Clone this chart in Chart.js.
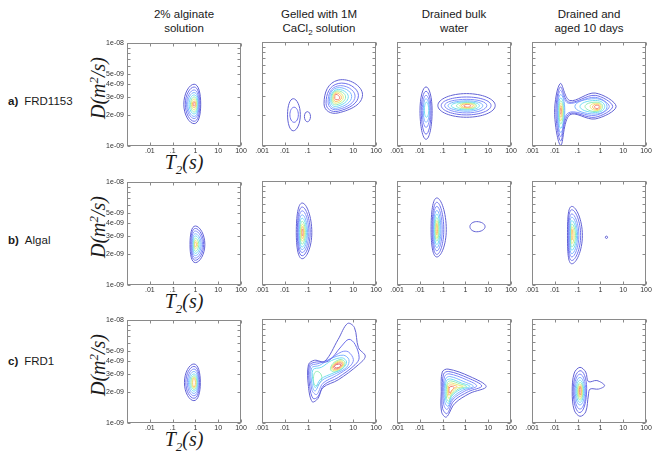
<!DOCTYPE html>
<html>
<head>
<meta charset="utf-8">
<script src="https://cdn.jsdelivr.net/npm/chart.js@4.4.0/dist/chart.umd.min.js"></script>
<style>
  body { margin: 0; width: 661px; height: 462px; overflow: hidden; position: relative; background: #fff;
         font-family: "Liberation Sans", Arial, sans-serif; color: #1a1a1a; }
  .col { position: absolute; top: 7px; width: 160px; text-align: center; font-size: 11.5px; line-height: 14px; }
  .row { position: absolute; left: 8px; font-size: 11.5px; line-height: 14px; white-space: nowrap; }
  .row b { margin-right: 6px; }
  .ttl { position: absolute; font-family: "Liberation Serif", "Times New Roman", serif; font-style: italic;
         font-size: 20px; white-space: nowrap; line-height: 22px; }
  .ttl sup, .ttl sub { font-size: 13px; }
  .yt { transform: translate(-50%, -50%) rotate(-90deg); }
  .xt { transform: translate(-50%, -50%); }
  canvas { position: absolute; }
</style>
</head>
<body>
<script>
// ---- axes ----
const T2_TICKS = [0.001, 0.01, 0.1, 1, 10, 100];
const T2_LABELS = ['.001', '.01', '.1', '1', '10', '100'];
const D_TICKS = [1, 2, 3, 4, 5, 6, 7, 8, 9, 10];          // x 1e-9 m2/s
const D_LABELS = { 1: '1e-09', 2: '2e-09', 3: '3e-09', 4: '4e-09', 5: '5e-09', 10: '1e-08' };

const columns = ['2% alginate<br>solution', 'Gelled with 1M<br>CaCl<sub style="font-size:8px">2</sub> solution',
                 'Drained bulk<br>water', 'Drained and<br>aged 10 days'];
const rowTags = ['a)', 'b)', 'c)'];
const rowNames = ['FRD1153', 'Algal', 'FRD1'];

// ---- contours: [level, [T2, D(1e-9), T2, D, ...]] ----
const a1 = [
  [0, [.31,2.55, .88,3.99, 1.71,2.55, .88,1.65]],
  [1, [.36,2.55, .88,3.75, 1.57,2.55, .88,1.74]],
  [2, [.41,2.55, .88,3.51, 1.44,2.55, .88,1.85]],
  [3, [.46,2.55, .88,3.31, 1.36,2.55, .88,1.94]],
  [4, [.53,2.55, .88,3.14, 1.29,2.55, .88,2.05]],
  [5, [.61,2.55, .88,3.0, 1.21,2.55, .88,2.14]],
  [6, [.67,2.55, .88,2.87, 1.13,2.55, .88,2.24]],
  [7, [.74,2.55, .88,2.74, 1.06,2.55, .88,2.35]],
  [8, [.8,2.55, .88,2.66, .98,2.55, .88,2.44]]
];
const a2 = [
  [0, [.0132,2.0, .0236,2.85, .048,2.0, .0236,1.40]],
  [1, [.0167,2.0, .0256,2.36, .0393,2.0, .0256,1.69]],
  [0, [.0726,1.92, .098,2.14, .134,1.92, .098,1.71]],
  [0, [.525,2.55, 2.2,4.3, 25.6,3.12, 2.2,2.08]],
  [1, [.644,2.58, 2.2,3.99, 17,3.07, 2.2,2.16]],
  [2, [.79,2.64, 2.1,3.78, 12.1,3.02, 2.1,2.24]],
  [3, [.906,2.68, 1.92,3.62, 8.6,3.0, 1.92,2.31]],
  [4, [1.04,2.72, 1.85,3.48, 6.1,2.98, 1.85,2.40]],
  [5, [1.15,2.77, 1.8,3.38, 4.66,2.96, 1.8,2.49]],
  [6, [1.27,2.81, 1.78,3.31, 3.67,2.94, 1.78,2.58]],
  [7, [1.41,2.85, 1.75,3.23, 3.09,2.92, 1.75,2.68]],
  [8, [1.56,2.89, 1.75,3.14, 2.61,2.89, 1.75,2.79]]
];
const a3 = [
  [0, [.0102,2.19, .0188,3.70, .0347,2.19, .0188,1.16]],
  [1, [.0116,2.19, .0188,3.36, .0312,2.19, .0188,1.30]],
  [2, [.0129,2.19, .0188,3.07, .0284,2.19, .0188,1.51]],
  [3, [.0143,2.19, .0188,2.85, .0265,2.19, .0188,1.69]],
  [4, [.0159,2.19, .0195,2.64, .0247,2.19, .0195,1.89]],
  [0, [.062,2.45, 1.12,3.19, 20.3,2.45, 1.12,1.89]],
  [1, [.087,2.45, 1.12,2.96, 13.3,2.45, 1.12,1.99]],
  [2, [.123,2.45, 1.15,2.81, 8.7,2.45, 1.15,2.08]],
  [3, [.172,2.44, 1.2,2.72, 5.8,2.44, 1.2,2.16]],
  [4, [.242,2.44, 1.2,2.66, 4.1,2.44, 1.2,2.22]],
  [5, [.405,2.44, 1.2,2.62, 3.1,2.44, 1.2,2.26]],
  [6, [.57,2.44, 1.2,2.58, 2.66,2.44, 1.2,2.29]],
  [7, [.67,2.44, 1.2,2.55, 2.24,2.44, 1.2,2.33]],
  [8, [.86,2.44, 1.25,2.51, 1.7,2.44, 1.25,2.36]]
];
const a4 = [
  [0, [.0098,2.11, .0175,3.99, .0452,2.74, .59,3.23, 4.9,2.40, .59,1.82, .0452,1.99, .0182,1.015]],
  [1, [.0112,2.11, .0175,3.70, .0414,2.64, .59,3.07, 3.45,2.40, .59,1.89, .0414,2.03, .0182,1.12]],
  [2, [.0125,2.11, .0175,3.43, .0386,2.58, .59,2.94, 2.46,2.40, .59,1.97, .0386,2.08, .0182,1.23]],
  [3, [.0133,2.2, .0182,3.12, .0274,2.2, .0182,1.35]],
  [4, [.0143,2.2, .0182,2.89, .0256,2.2, .0182,1.48]],
  [5, [.0153,2.2, .0182,2.72, .0239,2.2, .0182,1.63]],
  [6, [.0159,2.2, .0182,2.58, .0223,2.2, .0182,1.75]],
  [7, [.0164,2.15, .0182,2.45, .0208,2.15, .0182,1.89]],
  [8, [.017,2.15, .0182,2.33, .0194,2.15, .0182,2.03]],
  [3, [.076,2.4, .59,2.85, 1.95,2.4, .59,2.03]],
  [4, [.127,2.4, .62,2.74, 1.55,2.4, .62,2.10]],
  [5, [.211,2.4, .65,2.64, 1.25,2.4, .65,2.14]],
  [6, [.354,2.4, .7,2.58, 1.09,2.4, .7,2.19]],
  [7, [.45,2.38, .72,2.53, .98,2.38, .72,2.24]],
  [8, [.55,2.38, .72,2.47, .89,2.38, .72,2.29]]
];
const b1 = [
  [0, [.58,2.48, 1.0,3.75, 2.6,2.48, 1.0,1.65]],
  [1, [.63,2.48, 1.0,3.55, 2.3,2.48, 1.0,1.74]],
  [2, [.68,2.48, 1.0,3.35, 2.05,2.48, 1.0,1.83]],
  [3, [.73,2.48, 1.0,3.15, 1.8,2.48, 1.0,1.93]],
  [4, [.78,2.48, 1.0,3.0, 1.6,2.48, 1.0,2.03]],
  [5, [.84,2.48, 1.0,2.85, 1.4,2.48, 1.0,2.13]],
  [6, [.89,2.48, 1.0,2.72, 1.25,2.48, 1.0,2.25]],
  [7, [.93,2.48, 1.0,2.62, 1.12,2.48, 1.0,2.35]]
];
const b2 = [
  [0, [.0319,3.2, .058,6.14, .153,3.2, .058,1.79]],
  [1, [.0354,3.2, .058,5.62, .130,3.2, .058,1.91]],
  [2, [.038,3.2, .058,5.17, .113,3.2, .058,2.05]],
  [3, [.0405,3.2, .058,4.73, .099,3.2, .058,2.19]],
  [4, [.0435,3.2, .058,4.39, .0893,3.2, .058,2.32]],
  [5, [.0466,3.2, .058,4.10, .080,3.2, .058,2.47]],
  [6, [.050,3.2, .059,3.84, .0726,3.2, .059,2.64]],
  [7, [.0534,3.2, .06,3.64, .068,3.2, .06,2.80]],
  [8, [.0553,3.2, .06,3.45, .0634,3.2, .06,2.97]]
];
const b3 = [
  [0, [.0312,3.4, .056,6.87, .145,3.4, .056,1.86]],
  [1, [.0347,3.4, .056,6.24, .113,3.4, .056,1.97]],
  [2, [.0372,3.4, .056,5.70, .096,3.4, .056,2.13]],
  [3, [.040,3.4, .056,5.21, .084,3.4, .056,2.29]],
  [4, [.0427,3.4, .056,4.80, .076,3.4, .056,2.45]],
  [5, [.0458,3.4, .056,4.45, .069,3.4, .056,2.64]],
  [6, [.049,3.4, .056,4.16, .065,3.4, .056,2.80]],
  [7, [.0526,3.4, .056,3.92, .060,3.4, .056,3.02]],
  [0, [1.58,3.64, 3.13,4.07, 7.3,3.64, 3.13,3.25]]
];
const b4 = [
  [0, [.036,3.0, .056,5.70, .162,3.0, .056,1.60]],
  [1, [.0386,3.0, .056,5.29, .136,3.0, .056,1.72]],
  [2, [.0414,3.0, .056,4.83, .114,3.0, .056,1.86]],
  [3, [.0444,3.0, .056,4.49, .100,3.0, .056,2.0]],
  [4, [.0476,3.0, .056,4.16, .090,3.0, .056,2.16]],
  [5, [.049,3.0, .056,3.86, .081,3.0, .056,2.32]],
  [6, [.051,3.0, .056,3.64, .071,3.0, .056,2.50]],
  [7, [.0526,3.0, .056,3.45, .062,3.0, .056,2.70]],
  [0, [1.64,2.88, 1.85,2.95, 2.07,2.88, 1.85,2.80]]
];
const c1 = [
  [0, [.33,2.47, .86,3.75, 1.65,2.47, .86,1.65]],
  [1, [.38,2.47, .86,3.55, 1.52,2.47, .86,1.74]],
  [2, [.44,2.47, .86,3.35, 1.42,2.47, .86,1.84]],
  [3, [.5,2.47, .86,3.17, 1.33,2.47, .86,1.94]],
  [4, [.56,2.47, .86,3.0, 1.25,2.47, .86,2.04]],
  [5, [.63,2.47, .86,2.88, 1.17,2.47, .86,2.12]],
  [6, [.7,2.47, .86,2.8, 1.1,2.47, .86,2.18]],
  [7, [.76,2.47, .86,2.72, 1.0,2.47, .86,2.22]]
];
const c2 = [
  [0, [.109,3.64, .202,4.01, .56,3.92, 2.2,6.38, 5.68,9.06, 11.3,8.28, 17,5.29, 33.8,4.39, 17,3.64, 2.2,2.60, .47,2.19, .284,1.72, .16,1.60, .109,2.24]],
  [1, [.12,3.59, .239,3.86, .79,3.92, 3.09,5.49, 6.5,6.38, 12.1,5.70, 18.2,4.23, 12.1,3.64, 2.2,2.74, .52,2.32, .284,1.79, .175,1.72, .124,2.24]],
  [2, [.134,3.51, .284,3.72, .85,4.07, 3.09,4.83, 6.1,4.83, 10.2,4.07, 7.2,3.51, 1.85,2.86, .47,2.41, .25,1.88, .154,2.08]],
  [3, [.149,3.38, .337,3.58, 1.04,4.16, 3.67,4.49, 6.5,4.07, 5.14,3.43, 1.56,2.95, .40,2.54, .215,2.03, .16,2.29]],
  [4, [.171,3.25, .40,3.43, 1.11,3.98, 3.31,4.23, 5.14,3.86, 3.67,3.38, 1.32,3.02, .37,2.64, .22,2.19, .18,2.41]],
  [5, [.18,2.6, .245,3.13, .42,2.74, .245,2.29]],
  [5, [1.0,3.33, 2.35,4.05, 4.4,3.75, 1.9,3.12]],
  [6, [1.11,3.38, 2.35,3.95, 3.95,3.72, 1.9,3.19]],
  [7, [1.23,3.43, 2.28,3.86, 3.6,3.70, 1.9,3.25]],
  [8, [1.36,3.48, 2.28,3.78, 3.3,3.66, 1.9,3.31]],
  [9, [1.51,3.51, 2.2,3.68, 2.9,3.60, 1.9,3.38]]
];
const c3 = [
  [0, [.0873,2.0, .0966,3.09, .173,3.30, 1.58,2.80, 8.15,2.24, 1.58,1.93, .34,1.54, .1455,1.14, .09,1.28]],
  [1, [.0966,2.0, .11,2.95, .185,3.13, 1.34,2.70, 5.2,2.27, 1.34,2.0, .31,1.63, .156,1.23, .10,1.38]],
  [2, [.107,2.0, .123,2.80, .19,2.97, 1.13,2.60, 3.13,2.27, .95,2.03, .288,1.70, .16,1.35, .114,1.48]],
  [3, [.118,2.0, .135,2.65, .205,2.80, .86,2.50, 2.23,2.25, .74,2.06, .27,1.75, .173,1.45, .128,1.56]],
  [4, [.13,2.0, .1455,2.54, .22,2.65, .66,2.43, 1.58,2.25, .57,2.09, .25,1.81, .18,1.54, .14,1.66]],
  [5, [.1455,2.0, .162,2.45, .227,2.54, .57,2.38, 1.13,2.25, .48,2.12, .243,1.85, .185,1.62, .15,1.72]],
  [6, [.162,2.03, .173,2.37, .243,2.43, .48,2.32, .80,2.24, .405,2.16, .243,1.90, .195,1.72, .167,1.81]],
  [7, [.18,2.03, .19,2.29, .27,2.32, .43,2.24, .288,2.12, .215,1.90, .185,1.85]],
  [8, [.19,2.06, .205,2.22, .27,2.24, .32,2.19, .25,2.06, .21,1.93]]
];
const c4 = [
  [0, [.058,2.0, .0712,3.02, .127,3.43, .227,3.09, .298,2.5, .70,2.56, 1.53,2.29, .83,2.12, .353,2.12, .298,1.86, .227,1.28, .127,1.16, .0712,1.33]],
  [1, [.064,2.03, .127,3.18, .25,2.16, .127,1.26]],
  [2, [.0712,2.03, .127,2.95, .227,2.03, .127,1.36]],
  [3, [.0787,2.03, .127,2.74, .205,2.03, .127,1.49]],
  [4, [.0873,2.03, .127,2.58, .185,2.03, .127,1.58]],
  [5, [.0966,2.03, .13,2.45, .173,2.03, .13,1.66]],
  [6, [.1035,2.03, .13,2.36, .162,2.03, .13,1.72]],
  [7, [.111,2.03, .13,2.29, .151,2.03, .13,1.78]],
  [8, [.119,2.03, .13,2.24, .1405,2.03, .13,1.86]]
];
const panels = [[a1, a2, a3, a4], [b1, b2, b3, b4], [c1, c2, c3, c4]];

// ---- style / layout ----
const LEVEL_COLORS = ['#6262d4', '#6e70ec', '#8390fb', '#7eb4ff', '#72dcf2', '#94ecb6',
                      '#e4ec78', '#ffbe68', '#ef8078', '#e05c5c'];
const BOX_LEFT = [127, 262, 397, 532];
const BOX_TOP = [42, 181, 319];
const BOX_W = 114, BOX_H = 104;
const PAD_L = 30, PAD_T = 6, PAD_R = 12, PAD_B = 14;
const TICK_FONT = { family: '"Liberation Sans", Arial, sans-serif', size: 7 };

// ---- text ----
columns.forEach((txt, i) => {
  const d = document.createElement('div');
  d.className = 'col';
  d.style.left = (BOX_LEFT[i] + BOX_W / 2 - 80) + 'px';
  d.innerHTML = txt;
  document.body.appendChild(d);
});
const rowLabelY = [101, 240, 361];
rowTags.forEach((tag, r) => {
  const d = document.createElement('div');
  d.className = 'row';
  d.style.top = (rowLabelY[r] - 7) + 'px';
  d.innerHTML = '<b>' + tag + '</b>' + rowNames[r];
  document.body.appendChild(d);

  const y = document.createElement('div');
  y.className = 'ttl yt';
  y.style.left = '96px';
  y.style.top = (BOX_TOP[r] + 46) + 'px';
  y.innerHTML = 'D(m<sup>2</sup>/s)';
  document.body.appendChild(y);

  const x = document.createElement('div');
  x.className = 'ttl xt';
  x.style.left = (BOX_LEFT[0] + BOX_W / 2) + 'px';
  x.style.top = (BOX_TOP[r] + 124) + 'px';
  x.innerHTML = 'T<sub>2</sub>(s)';
  document.body.appendChild(x);
});

// ---- frame with inward ticks on all four sides ----
const frame = {
  id: 'frame',
  afterDraw(chart) {
    const { ctx, chartArea: a, scales: { x, y } } = chart;
    const l = Math.round(a.left) + 0.5, r = Math.round(a.right) - 0.5;
    const t = Math.round(a.top) + 0.5, b = Math.round(a.bottom) - 0.5;
    ctx.save();
    ctx.strokeStyle = '#8a8a8a';
    ctx.lineWidth = 1;
    ctx.strokeRect(l, t, r - l, b - t);
    ctx.beginPath();
    x.ticks.forEach(tk => {
      const px = Math.round(x.getPixelForValue(tk.value)) + 0.5;
      ctx.moveTo(px, b); ctx.lineTo(px, b - 3);
      ctx.moveTo(px, t); ctx.lineTo(px, t + 3);
    });
    y.ticks.forEach(tk => {
      const py = Math.round(y.getPixelForValue(tk.value)) + 0.5;
      ctx.moveTo(l, py); ctx.lineTo(l + 3, py);
      ctx.moveTo(r, py); ctx.lineTo(r - 3, py);
    });
    ctx.stroke();
    ctx.restore();
  }
};

// closed loop: wrap one point on each side so the spline is smooth at the seam
function loopDataset(level, flat) {
  const pts = [];
  for (let i = 0; i < flat.length; i += 2) pts.push({ x: flat[i], y: flat[i + 1] });
  const n = pts.length;
  return {
    data: [pts[n - 1], ...pts, pts[0], pts[1]],
    borderColor: LEVEL_COLORS[level],
    borderWidth: 1,
    pointRadius: 0,
    fill: false,
    tension: n === 4 ? 0.55 : 0.35,
    segment: {
      borderColor: c => (c.p0DataIndex === 0 || c.p0DataIndex === n + 1) ? 'rgba(0,0,0,0)' : undefined
    }
  };
}

panels.forEach((row, r) => {
  row.forEach((contours, c) => {
    const cv = document.createElement('canvas');
    const w = PAD_L + BOX_W + PAD_R, h = PAD_T + BOX_H + PAD_B;
    cv.width = w; cv.height = h;
    cv.style.width = w + 'px'; cv.style.height = h + 'px';
    cv.style.left = (BOX_LEFT[c] - PAD_L) + 'px';
    cv.style.top = (BOX_TOP[r] - PAD_T) + 'px';
    document.body.appendChild(cv);

    new Chart(cv, {
      type: 'line',
      data: { datasets: contours.map(([lv, pts]) => loopDataset(lv, pts)) },
      options: {
        responsive: false,
        animation: false,
        devicePixelRatio: 1,
        layout: { padding: { left: 0, top: PAD_T, right: PAD_R, bottom: 0 } },
        plugins: { legend: { display: false }, tooltip: { enabled: false } },
        events: [],
        scales: {
          x: {
            type: 'logarithmic', min: 0.001, max: 100,
            afterBuildTicks: s => { s.ticks = T2_TICKS.map(v => ({ value: v })); },
            afterFit: s => { s.height = PAD_B; },
            grid: { display: false, drawTicks: false },
            border: { display: false },
            ticks: {
              autoSkip: false, maxRotation: 0, padding: 1, color: '#333', font: TICK_FONT,
              callback: (v, i) => (c === 0 && i === 0) ? '' : T2_LABELS[i]
            }
          },
          y: {
            type: 'logarithmic', min: 1, max: 10,
            afterBuildTicks: s => { s.ticks = D_TICKS.map(v => ({ value: v })); },
            afterFit: s => { s.width = PAD_L; },
            grid: { display: false, drawTicks: false },
            border: { display: false },
            ticks: {
              display: c === 0, autoSkip: false, padding: 3, color: '#333', font: TICK_FONT,
              callback: v => D_LABELS[Math.round(v)] || ''
            }
          }
        }
      },
      plugins: [frame]
    });
  });
});
</script>
</body>
</html>
